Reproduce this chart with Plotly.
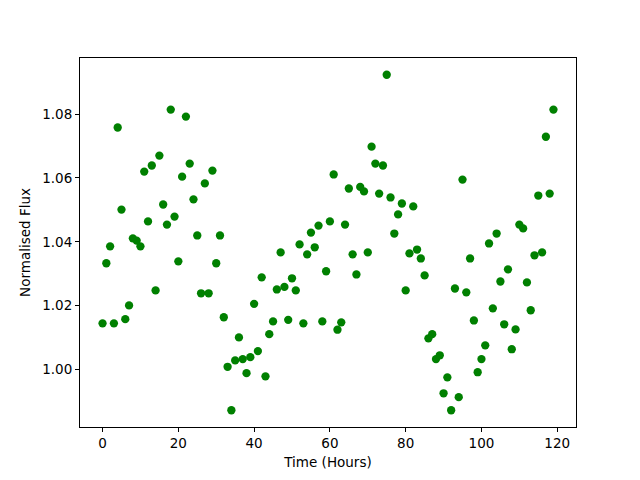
import plotly.graph_objects as go

hours = list(range(120))
flux = [
    1.0145, 1.0333, 1.0386, 1.0145, 1.0758, 1.0501, 1.0158, 1.0201, 1.0411, 1.0404,
    1.0386, 1.0620, 1.0464, 1.0639, 1.0248, 1.0670, 1.0517, 1.0454, 1.0814, 1.0479,
    1.0339, 1.0604, 1.0792, 1.0645, 1.0533, 1.0420, 1.0239, 1.0583, 1.0239, 1.0623,
    1.0333, 1.0420, 1.0164, 1.0009, 0.9873, 1.0029, 1.0101, 1.0033, 0.9989, 1.0039,
    1.0206, 1.0058, 1.0289, 0.9979, 1.0111, 1.0151, 1.0251, 1.0367, 1.0259, 1.0156,
    1.0286, 1.0248, 1.0392, 1.0145, 1.0361, 1.0429, 1.0383, 1.0451, 1.0151, 1.0308,
    1.0464, 1.0611, 1.0125, 1.0148, 1.0454, 1.0567, 1.0361, 1.0298, 1.0572, 1.0558,
    1.0367, 1.0698, 1.0645, 1.0551, 1.0639, 1.0923, 1.0539, 1.0426, 1.0486, 1.0520,
    1.0248, 1.0364, 1.0511, 1.0376, 1.0348, 1.0295, 1.0098, 1.0111, 1.0033, 1.0045,
    0.9926, 0.9976, 0.9873, 1.0254, 0.9914, 1.0595, 1.0242, 1.0348, 1.0154, 0.9992,
    1.0033, 1.0076, 1.0395, 1.0192, 1.0426, 1.0276, 1.0142, 1.0314, 1.0064, 1.0126,
    1.0454, 1.0442, 1.0273, 1.0186, 1.0358, 1.0545, 1.0367, 1.0729, 1.0551, 1.0814,
]
x_ticks = [0, 20, 40, 60, 80, 100, 120]
y_ticks = [1.00, 1.02, 1.04, 1.06, 1.08]

xmin, xmax = min(hours), max(hours)
ymin, ymax = min(flux), max(flux)
xpad = 0.05 * (xmax - xmin)
ypad = 0.05 * (ymax - ymin)

fig = go.Figure(go.Scatter(
    x=hours, y=flux, mode="markers",
    marker=dict(color="#008000", size=8.3, line=dict(width=0)),
))

axis_common = dict(
    showline=True, linecolor="black", linewidth=1, mirror=True,
    ticks="outside", ticklen=4, tickwidth=1, tickcolor="black",
    showgrid=False, zeroline=False, automargin=False,
    tickfont=dict(family="DejaVu Sans", size=13.5, color="black"),
)

fig.update_layout(
    width=640, height=480,
    margin=dict(l=80, r=64, t=58, b=53),
    paper_bgcolor="white", plot_bgcolor="white",
    showlegend=False,
    font=dict(family="DejaVu Sans", size=13.5, color="black"),
    xaxis=dict(
        range=[xmin - xpad, xmax + xpad], tickvals=x_ticks,
        ticktext=[str(v) for v in x_ticks],
        title=dict(text="Time (Hours)", standoff=7,
                   font=dict(family="DejaVu Sans", size=13.5, color="black")),
        **axis_common,
    ),
    yaxis=dict(
        range=[ymin - ypad, ymax + ypad], tickvals=y_ticks,
        ticktext=[f"{v:.2f}" for v in y_ticks],
        title=dict(text="Normalised Flux", standoff=8,
                   font=dict(family="DejaVu Sans", size=13.5, color="black")),
        **axis_common,
    ),
)

fig.write_html(
    "out.html",
    config={"displayModeBar": False},
    post_script="document.body.style.margin='0';document.body.style.padding='0';",
)
